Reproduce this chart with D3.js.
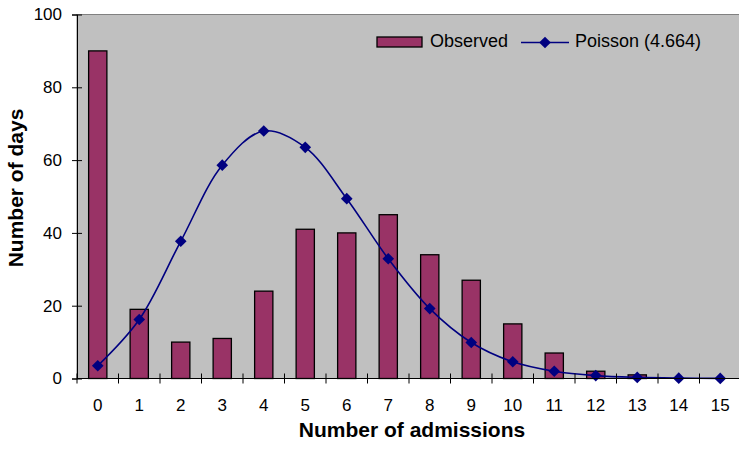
<!DOCTYPE html>
<html>
<meta charset='utf-8'>
<style>
  body{ margin: 0; background: #fff; }
  svg{ display: block; font-family: 'Liberation Sans', Arial, sans-serif; }
</style>
<body>
<svg id='chart' width='739' height='450'></svg>
<script src='https://d3js.org/d3.v7.min.js'></script>
<script>
  // data
  const admissions = ['0','1','2','3','4','5','6','7','8','9','10','11','12','13','14','15']
  const observed = [90, 19, 10, 11, 24, 41, 40, 45, 34, 27, 15, 7, 2, 1, 0, 0]
  const poisson = [3.5, 16.2, 37.7, 58.6, 68.0, 63.5, 49.4, 32.9, 19.2, 9.9, 4.6, 2.0, 0.8, 0.3, 0.1, 0.03]
  const yTicks = [0, 20, 40, 60, 80, 100]

  const svg = d3.select('#chart')
  const m = {left: 77, top: 14.5, right: 741, bottom: 378.5}

  const x = d3.scaleBand().domain(admissions).range([m.left, m.right]).paddingInner(0.56).paddingOuter(0.28)
  const xc = d3.scalePoint().domain(admissions).range([m.left, m.right]).padding(0.5)
  const y = d3.scaleLinear().domain([0, 100]).range([m.bottom, m.top])

  // plot background
  svg.append('rect')
    .attr('x', m.left).attr('y', m.top)
    .attr('width', m.right - m.left).attr('height', m.bottom - m.top)
    .attr('fill', '#c0c0c0').attr('stroke', '#808080').attr('stroke-width', 1)

  // bars
  svg.append('g').selectAll('rect')
    .data(observed)
    .join('rect')
    .attr('x', (d, i) => x(admissions[i]))
    .attr('y', d => y(d))
    .attr('width', x.bandwidth())
    .attr('height', d => m.bottom - y(d))
    .attr('fill', '#993366')
    .attr('stroke', '#000').attr('stroke-width', 1.3)

  // poisson line
  const line = d3.line()
    .x((d, i) => xc(admissions[i]))
    .y(d => y(d))
    .curve(d3.curveCatmullRom.alpha(0.5))
  svg.append('path')
    .datum(poisson)
    .attr('d', line)
    .attr('fill', 'none').attr('stroke', '#000080').attr('stroke-width', 1.6)

  const diamond = d3.symbol().type(d3.symbolSquare).size(68)
  svg.append('g').selectAll('path')
    .data(poisson)
    .join('path')
    .attr('d', diamond)
    .attr('transform', (d, i) => `translate(${xc(admissions[i])},${y(d)}) rotate(45)`)
    .attr('fill', '#000080')

  const font = "'Liberation Sans', Arial, sans-serif"

  // y axis
  const yAxis = svg.append('g')
    .attr('transform', `translate(${m.left},0)`)
    .call(d3.axisLeft(y).tickValues(yTicks).tickSize(5).tickPadding(10))
  yAxis.select('.domain').attr('stroke', '#000')
  yAxis.selectAll('.tick line').attr('x2', 5).attr('x1', -5).attr('stroke', '#000')
  yAxis.selectAll('.tick text').attr('font-size', 17).attr('fill', '#000').attr('font-family', font)

  // x axis
  const xAxis = svg.append('g')
    .attr('transform', `translate(0,${m.bottom})`)
    .call(d3.axisBottom(x).tickSize(0).tickPadding(20))
  xAxis.select('.domain').attr('stroke', '#000').attr('d', `M${m.left},0H${m.right}`)
  xAxis.selectAll('.tick text').attr('font-size', 17).attr('fill', '#000').attr('font-family', font)
  // category separator ticks
  const step = (m.right - m.left) / admissions.length
  xAxis.append('g').selectAll('line')
    .data(d3.range(admissions.length + 1))
    .join('line')
    .attr('x1', d => m.left + d * step).attr('x2', d => m.left + d * step)
    .attr('y1', -5).attr('y2', 5)
    .attr('stroke', '#000')

  // axis titles
  svg.append('text')
    .attr('x', 412).attr('y', 437)
    .attr('text-anchor', 'middle')
    .attr('font-size', 21).attr('font-weight', 'bold')
    .text('Number of admissions')
  svg.append('text')
    .attr('transform', 'translate(23,188) rotate(-90)')
    .attr('text-anchor', 'middle')
    .attr('font-size', 21).attr('font-weight', 'bold')
    .text('Number of days')

  // legend
  const lg = svg.append('g')
  lg.append('rect')
    .attr('x', 377).attr('y', 37).attr('width', 45).attr('height', 10)
    .attr('fill', '#993366').attr('stroke', '#000').attr('stroke-width', 1.3)
  lg.append('text').attr('x', 430).attr('y', 47).attr('font-size', 18).text('Observed')
  lg.append('line')
    .attr('x1', 521).attr('x2', 569).attr('y1', 42.5).attr('y2', 42.5)
    .attr('stroke', '#000080').attr('stroke-width', 1.6)
  lg.append('path').attr('d', diamond).attr('transform', 'translate(545,42.5) rotate(45)').attr('fill', '#000080')
  lg.append('text').attr('x', 575).attr('y', 47).attr('font-size', 18).text('Poisson (4.664)')
</script>
</body>
</html>
